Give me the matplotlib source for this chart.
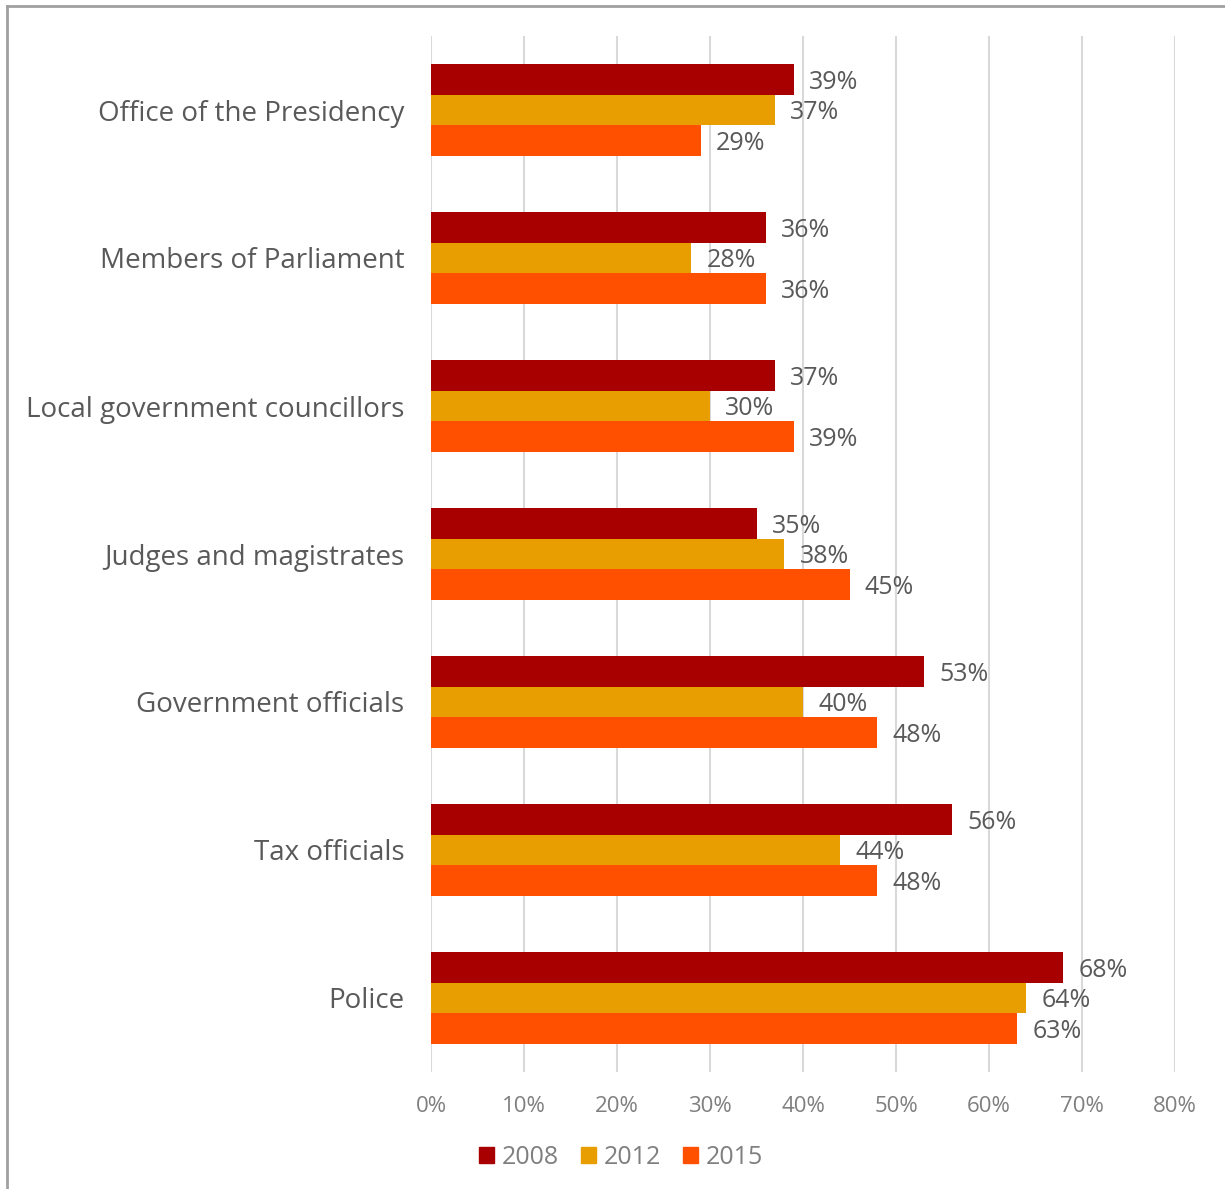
import matplotlib
matplotlib.use("Agg")
import matplotlib.pyplot as plt
import numpy as np
from matplotlib.lines import Line2D
from matplotlib.patches import Patch

# data
categories = ['Office of the Presidency', 'Members of Parliament',
              'Local government councillors', 'Judges and magistrates',
              'Government officials', 'Tax officials', 'Police']
years = ['2008', '2012', '2015']
v2008 = [39, 36, 37, 35, 53, 56, 68]
v2012 = [37, 28, 30, 38, 40, 44, 64]
v2015 = [29, 36, 39, 45, 48, 48, 63]
xticks = [0, 10, 20, 30, 40, 50, 60, 70, 80]

colors = ['#A80000', '#E89E00', '#FF5000']
txt_gray = '#595959'
tick_gray = '#7F7F7F'

plt.rcParams['font.family'] = ['Open Sans', 'DejaVu Sans']

fig = plt.figure(figsize=(12.25, 11.89), dpi=100)
ax = fig.add_axes([431 / 1225, 117 / 1189, 744 / 1225, 1036 / 1189])

y = np.arange(len(categories))
h = 0.206
series = [v2008, v2012, v2015]
for i, vals in enumerate(series):
    pos = y + (i - 1) * h
    ax.barh(pos, vals, height=h, color=colors[i], label=years[i], zorder=3)
    for p, v in zip(pos, vals):
        ax.annotate('%d%%' % v, (v, p), xytext=(11, -2), textcoords='offset points',
                    va='center', ha='left', fontsize=18, color=txt_gray)

ax.set_ylim(len(categories) - 0.5, -0.5)
ax.set_xlim(0, 80)
ax.set_xticks(xticks)
ax.set_xticklabels(['%d%%' % t for t in xticks], fontsize=16, color=tick_gray)
ax.set_yticks(y)
ax.set_yticklabels(categories, fontsize=20, color=txt_gray)
ax.tick_params(axis='both', length=0)
ax.tick_params(axis='y', pad=19)
ax.tick_params(axis='x', pad=17)
ax.grid(axis='x', color='#D9D9D9', linewidth=1.5, zorder=0)
for s in ax.spines.values():
    s.set_visible(False)

handles = [Patch(color=c, label=l) for c, l in zip(colors, years)]
fig.legend(handles=handles, loc='center', bbox_to_anchor=(621 / 1225, 1 - 1157 / 1189),
           ncol=3, frameon=False, fontsize=18, handlelength=0.6, handleheight=0.6,
           handletextpad=0.3, columnspacing=0.9, labelcolor=tick_gray)

# outer border (top and left edges)
fig.add_artist(Line2D([7 / 1225, 7 / 1225], [0, 1 - 6 / 1189], color='#A0A0A0', lw=2))
fig.add_artist(Line2D([7 / 1225, 1], [1 - 6 / 1189, 1 - 6 / 1189], color='#A0A0A0', lw=2))

fig.savefig('out.png', dpi=100)
